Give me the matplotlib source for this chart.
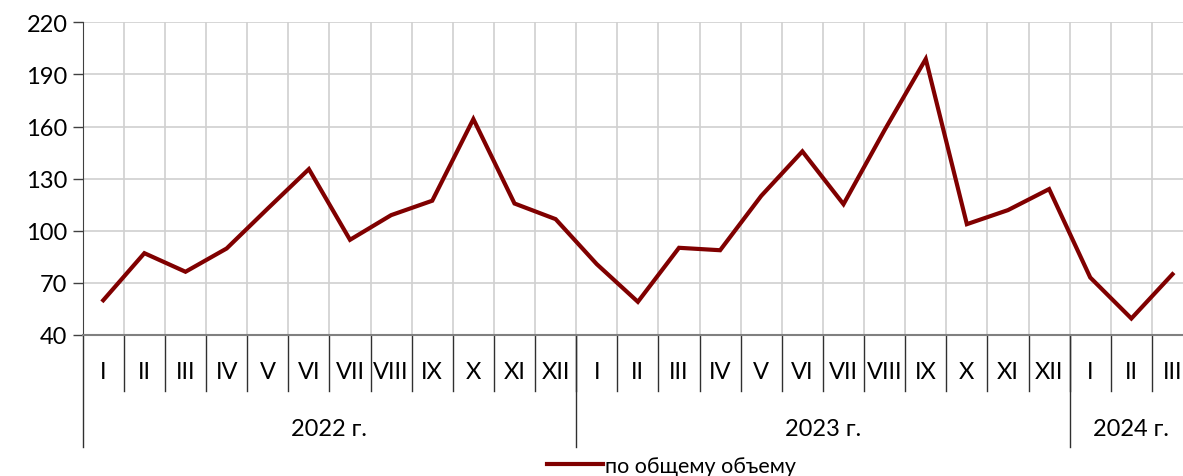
import matplotlib

matplotlib.use("Agg")

from matplotlib import pyplot as plt
from matplotlib import transforms

months = ["I", "II", "III", "IV", "V", "VI", "VII", "VIII", "IX", "X", "XI", "XII"] * 2 + ["I", "II", "III"]
years = ["2022 г.", "2023 г.", "2024 г."]
year_sizes = [12, 12, 3]
values = [
    60.0, 87.1, 76.4, 89.8, 112.8, 135.5, 94.8, 109.0, 117.3, 164.3, 115.7, 106.7,
    80.8, 59.1, 90.2, 88.8, 120.1, 145.7, 115.3, 158.0, 198.9, 103.8, 111.9, 124.0,
    73.1, 49.5, 75.0,
]
series_name = "по общему объему"

plt.rcParams["font.family"] = ["Lato", "DejaVu Sans"]

fig = plt.figure(figsize=(11.83, 4.77), dpi=100)
ax = fig.add_axes([0.0699, 0.2956, 0.9386, 0.6555])

x = list(range(len(values)))
line, = ax.plot(x, values, color="#800000", linewidth=3.0, solid_joinstyle="miter", label=series_name)

ax.set_xlim(-0.5, len(values) - 0.5)
ax.set_ylim(40, 220)
ax.set_yticks(range(40, 221, 30))
ax.tick_params(axis="y", labelsize=17, length=7, width=1, color="#404040", direction="out", pad=4)

ax.set_xticks([i - 0.5 for i in range(1, len(values))], minor=True)
ax.set_xticks([])
ax.grid(axis="y", color="#d0d0d0", linewidth=1.2)
ax.grid(axis="x", which="minor", color="#d0d0d0", linewidth=1.2)
ax.tick_params(axis="x", which="minor", length=0)
ax.set_axisbelow(True)

for side in ["top", "right"]:
    ax.spines[side].set_visible(False)
ax.spines["left"].set_color("#404040")
ax.spines["bottom"].set_color("#808080")
ax.spines["bottom"].set_linewidth(1.5)

trans = transforms.blended_transform_factory(ax.transData, ax.transAxes)

# month labels and separators
for i, m in enumerate(months):
    ax.text(i, -0.117, m, transform=trans, ha="center", va="center", fontsize=17)
for i in range(1, len(values)):
    ax.plot([i - 0.5, i - 0.5], [0, -0.178], transform=trans, color="#303030",
            linewidth=1, clip_on=False)

# year labels and separators
start = 0
bounds = [-0.5]
for name, size in zip(years, year_sizes):
    center = start + (size - 1) / 2
    ax.text(center, -0.30, name, transform=trans, ha="center", va="center", fontsize=17)
    start += size
    bounds.append(start - 0.5)
for b in bounds:
    ax.plot([b, b], [0, -0.358], transform=trans, color="#303030", linewidth=1, clip_on=False)

fig.legend(handles=[line], loc="center left", bbox_to_anchor=(547 / 1183, 1 - 467 / 477),
           frameon=False, fontsize=15.5, handlelength=2.6, handletextpad=0.1,
           borderpad=0, borderaxespad=0)

fig.savefig("out.png", dpi=100)
